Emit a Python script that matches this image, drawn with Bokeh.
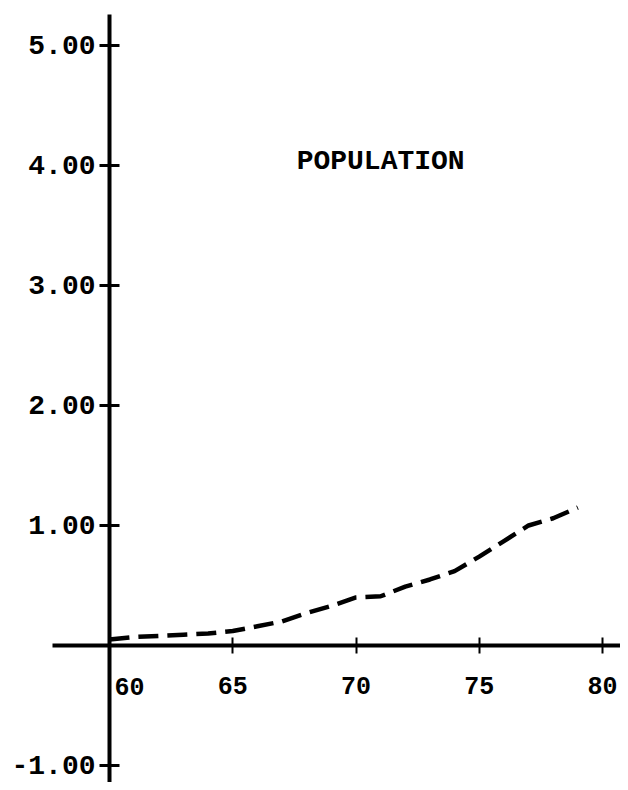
from bokeh.plotting import figure
from bokeh.models import LinearAxis, FixedTicker, Range1d, Label
from bokeh.core.properties import value
from bokeh.embed import file_html
from bokeh.resources import INLINE

# ---- data ----
years = [60, 61, 62, 63, 64, 65, 66, 67, 68, 69, 70, 71, 72, 73, 74, 75, 76, 77, 78, 79]
population = [0.05, 0.07, 0.08, 0.09, 0.10, 0.12, 0.16, 0.20, 0.27, 0.33,
              0.40, 0.41, 0.49, 0.55, 0.62, 0.74, 0.87, 1.00, 1.06, 1.15]
x_ticks = [65, 70, 75, 80]
x_tick_labels = ["65", "70", "75", "80"]
origin_label = "60"
y_ticks = [-1, 1, 2, 3, 4, 5]
y_tick_labels = ["-1.00", "1.00", "2.00", "3.00", "4.00", "5.00"]
series_label = "POPULATION"

FONT = "Liberation Mono"

p = figure(width=620, height=782, output_backend="svg", toolbar_location=None,
           x_range=Range1d(55.578, 80.73), y_range=Range1d(-1.142, 5.375),
           x_axis_location=None, y_axis_location=None, min_border=0)
p.outline_line_color = None
p.xgrid.visible = False
p.ygrid.visible = False
p.background_fill_color = "white"

# x axis crossing at y = 0
xa = LinearAxis(fixed_location=0, ticker=FixedTicker(ticks=x_ticks),
                major_label_overrides={t: l for t, l in zip(x_ticks, x_tick_labels)},
                bounds=(57.7, 81.5))
xa.axis_line_width = 4
xa.axis_line_color = "black"
xa.major_tick_in = 8
xa.major_tick_out = 8
xa.major_tick_line_width = 2
xa.minor_tick_line_color = None
xa.major_label_text_font = FONT
xa.major_label_text_font_size = "25px"
xa.major_label_text_font_style = "bold"
xa.major_label_text_color = "black"
xa.major_label_standoff = 24
p.add_layout(xa, "below")

# y axis crossing at x = 60
ya = LinearAxis(fixed_location=60, ticker=FixedTicker(ticks=y_ticks),
                major_label_overrides={t: l for t, l in zip(y_ticks, y_tick_labels)},
                bounds=(-1.2, 5.26))
ya.axis_line_width = 4
ya.axis_line_color = "black"
ya.major_tick_in = 10
ya.major_tick_out = 10
ya.major_tick_line_width = 3
ya.minor_tick_line_color = None
ya.major_label_text_font = FONT
ya.major_label_text_font_size = "28px"
ya.major_label_text_font_style = "bold"
ya.major_label_text_color = "black"
ya.major_label_standoff = 4
p.add_layout(ya, "left")

# label "60" placed right of the vertical axis
p.text(x=[years[0]], y=[0], text=[origin_label], x_offset=5, y_offset=33,
       text_align="left", text_baseline="top", text_font=value(FONT),
       text_font_size="25px", text_font_style="bold", text_color="black")

# series
p.line(years, population, line_color="black", line_width=4.5, line_dash="20 9")

p.add_layout(Label(x=71, y=4.03, text=series_label, text_align="center",
                   text_baseline="middle", text_font=FONT, text_font_size="28px",
                   text_font_style="bold", text_color="black"))

open("out.html", "w").write(file_html(p, INLINE))
